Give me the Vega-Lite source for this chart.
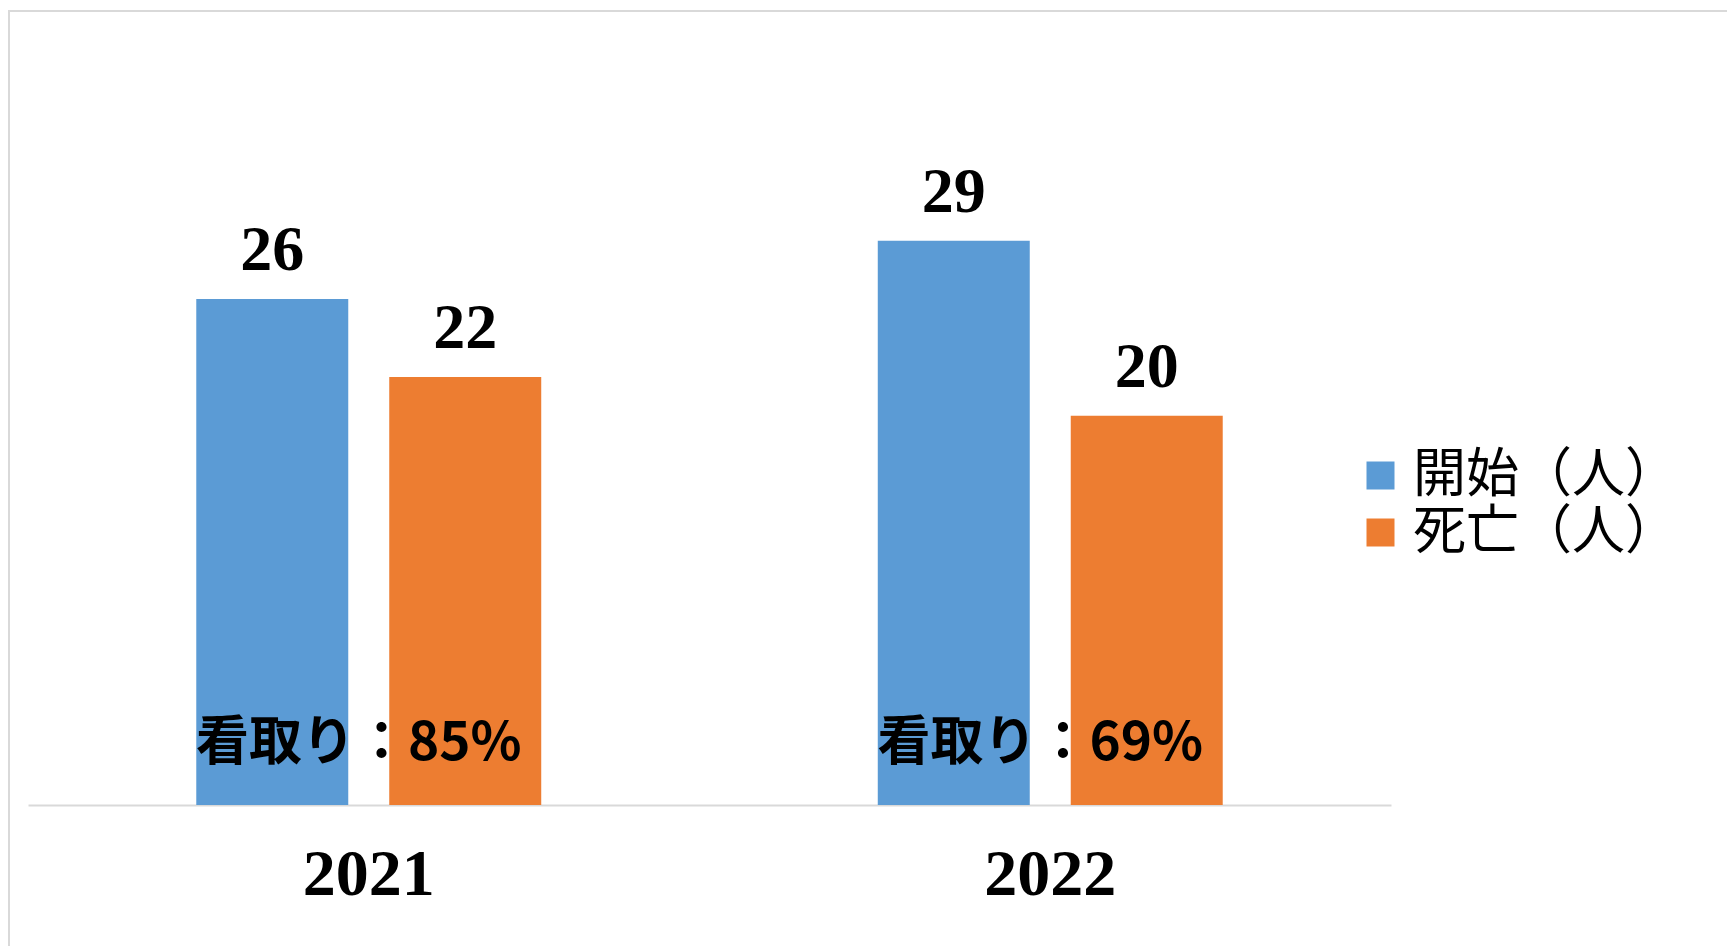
{
  "$schema": "https://vega.github.io/schema/vega-lite/v6.json",
  "autosize": "none",
  "padding": {"left": 9, "top": 11, "right": 0, "bottom": 0},
  "width": 1730,
  "height": 940,
  "background": "white",
  "config": {
    "view": {"stroke": "#d9d9d9", "strokeWidth": 2},
    "axis": {"grid": false}
  },
  "datasets": {
    "bars": [
      {"year": "2021", "series": "開始（人）", "value": 26},
      {"year": "2021", "series": "死亡（人）", "value": 22},
      {"year": "2022", "series": "開始（人）", "value": 29},
      {"year": "2022", "series": "死亡（人）", "value": 20}
    ],
    "notes": [
      {"year": "2021", "note": "看取り：85%"},
      {"year": "2022", "note": "看取り：69%"}
    ]
  },
  "layer": [
    {
      "data": {"name": "bars"},
      "mark": {"type": "bar"},
      "encoding": {
        "x": {
          "field": "year", "type": "nominal",
          "scale": {"range": [19, 1382], "paddingInner": 0, "paddingOuter": 0},
          "axis": {
            "title": null, "offset": -146, "domainColor": "#d9d9d9", "domainWidth": 2,
            "ticks": false, "labelAngle": 0, "labelFont": "Liberation Serif",
            "labelFontWeight": "bold", "labelFontSize": 66, "labelColor": "black",
            "labelPadding": 37
          }
        },
        "xOffset": {
          "field": "series", "type": "nominal",
          "sort": ["開始（人）", "死亡（人）"],
          "scale": {"paddingInner": 0.2124, "paddingOuter": 0.872}
        },
        "y": {
          "field": "value", "type": "quantitative",
          "scale": {"domain": [0, 35], "range": [794, 113], "nice": false},
          "axis": null
        },
        "color": {
          "field": "series", "type": "nominal",
          "scale": {"domain": ["開始（人）", "死亡（人）"], "range": ["#5B9BD5", "#ED7D31"]},
          "legend": {
            "title": null, "orient": "none", "legendX": 1345, "legendY": 438,
            "symbolType": "square", "symbolSize": 784, "symbolStrokeWidth": 0,
            "labelFont": "Noto Sans CJK JP", "labelFontSize": 53, "labelColor": "black",
            "labelOffset": 6, "rowPadding": 3, "labelLimit": 400, "padding": 0
          }
        }
      }
    },
    {
      "data": {"name": "bars"},
      "mark": {"type": "text", "font": "Liberation Serif", "fontWeight": "bold", "fontSize": 64, "baseline": "alphabetic", "dy": -29, "color": "black"},
      "encoding": {
        "x": {"field": "year", "type": "nominal"},
        "xOffset": {"field": "series", "type": "nominal", "sort": ["開始（人）", "死亡（人）"]},
        "y": {"field": "value", "type": "quantitative"},
        "text": {"field": "value", "type": "quantitative"}
      }
    },
    {
      "data": {"name": "notes"},
      "mark": {"type": "text", "font": "Noto Sans CJK JP", "fontWeight": "bold", "fontSize": 53, "baseline": "middle", "dx": -10, "color": "black"},
      "encoding": {
        "x": {"field": "year", "type": "nominal"},
        "y": {"datum": 3.15, "type": "quantitative"},
        "text": {"field": "note", "type": "nominal"}
      }
    }
  ]
}
